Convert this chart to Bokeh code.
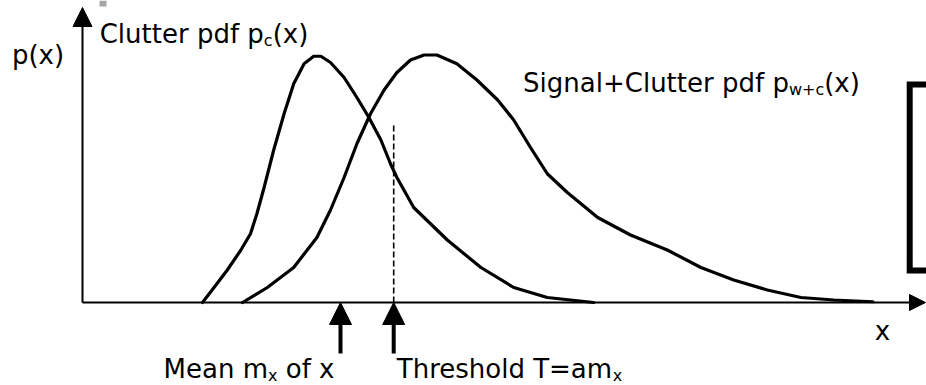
from bokeh.plotting import figure
from bokeh.models import Range1d, Arrow, NormalHead, Label
from bokeh.embed import file_html
from bokeh.resources import INLINE

# ---------------- data (x in arbitrary units, p(x) in % of peak) ----------------
clutter_x = [15.0, 16.8, 18.1, 19.8, 21.0, 21.8, 22.7, 23.9, 25.2, 26.4, 27.7, 28.9, 29.8,
             31.0, 32.7, 34.3, 35.8, 37.3, 38.5, 39.3, 41.4, 45.6, 49.8, 53.9, 58.1, 63.9]
clutter_y = [0, 7.5, 13, 21, 27.5, 35.5, 46, 61, 75.5, 87.5, 95.5, 98.5, 98.5,
             96, 90, 82, 74, 65, 55.5, 50, 38, 25, 14, 6, 2, 0]

signal_x = [20.0, 23.1, 26.4, 29.3, 31.0, 32.7, 34.3, 36.0, 37.7, 39.3, 41.0, 42.7, 44.3,
            46.8, 49.3, 51.9, 53.9, 56.0, 58.1, 60.6, 64.4, 68.5, 73.1, 77.3, 81.4, 85.6,
            89.8, 93.9, 98.8]
signal_y = [0, 6, 14, 26, 37, 50, 63.5, 75.5, 85, 92, 97, 99, 99,
            95.5, 89, 81, 73, 62, 51.5, 44, 34, 27, 21, 14, 9, 5,
            2, 1, 0.3]

mean_x = 32.25          # mean m_x of x
threshold_x = 38.9      # threshold T = a m_x
threshold_top = 72

box_x = [106, 103.4, 103.4, 106]
box_y = [87.2, 87.2, 12.8, 12.8]

# ---------------- layout helpers (page pixel -> data) ----------------
X0, Y0, SX, SY = 82.0, 302.0, 8.0, 2.5
def dx(px):
    return (px - X0) / SX
def dy(py):
    return (Y0 - py) / SY

x_axis_end = dx(925)
y_axis_end = dy(7)

FONT = "DejaVu Sans"
W = {'C': 0.698, 'l': 0.278, 'u': 0.634, 't': 0.392, 'e': 0.615, 'r': 0.411, ' ': 0.318,
     'p': 0.635, 'd': 0.635, 'f': 0.352, 'x': 0.592, '(': 0.390, ')': 0.390, 'c': 0.550,
     'w': 0.818, '+': 0.838, 'S': 0.635, 'i': 0.278, 'g': 0.635, 'n': 0.634, 'a': 0.613,
     'M': 0.863, 'm': 0.974, 'o': 0.612, 'T': 0.611, 'h': 0.634, 's': 0.521, '=': 0.838}
def tw(s, size):
    return sum(W.get(ch, 0.6) for ch in s) * size

p = figure(width=926, height=385, x_range=Range1d(dx(0), dx(926)), y_range=Range1d(dy(385), dy(0)),
           x_axis_type=None, y_axis_type=None, toolbar_location=None, output_backend="svg",
           min_border=0, min_border_left=0, min_border_right=0, min_border_top=0, min_border_bottom=0)
p.outline_line_color = None
p.grid.visible = False
p.background_fill_color = "white"
p.border_fill_color = "white"

# small grey mark at the top edge
p.quad(left=dx(99), right=dx(106), top=dy(0), bottom=dy(6), fill_color="#a6a6a6", line_color=None)

# axes with arrowheads
p.add_layout(Arrow(x_start=0, y_start=0, x_end=x_axis_end, y_end=0, line_width=2, line_color="black",
                   end=NormalHead(size=16, fill_color="black", line_color="black", line_width=1)))
p.add_layout(Arrow(x_start=0, y_start=0, x_end=0, y_end=y_axis_end, line_width=2, line_color="black",
                   end=NormalHead(size=19, fill_color="black", line_color="black", line_width=1)))

# pdf curves
p.line(clutter_x, clutter_y, line_width=3.2, line_color="black", line_join="round", line_cap="round")
p.line(signal_x, signal_y, line_width=3.2, line_color="black", line_join="round", line_cap="round")

# threshold dashed line
p.line([threshold_x, threshold_x], [0, threshold_top], line_width=1.6, line_color="black",
       line_dash="6 3")

# arrows below the axis
for xv in (mean_x, threshold_x):
    p.add_layout(Arrow(x_start=xv, y_start=dy(353), x_end=xv, y_end=0, line_width=4, line_color="black",
                       end=NormalHead(size=22, fill_color="black", line_color="black", line_width=1)))

# empty box at right
p.line(box_x, box_y, line_width=6, line_color="black", line_join="miter")

# texts: groups of (text, size, baseline shift); the label anchor sits ~0.365 em above baseline
def add_text(pieces, center_px, base_py):
    total = sum(tw(t, s) for t, s, sh in pieces)
    x = center_px - total / 2
    for t, s, sh in pieces:
        st = t.lstrip(" ")
        lead = tw(t[:len(t) - len(st)], s)
        ypix = base_py + sh - 0.365 * s
        p.add_layout(Label(x=dx(x + lead), y=dy(ypix), text=st, text_font=FONT,
                           text_font_size=f"{s}px", text_color="black",
                           text_baseline="alphabetic", text_align="left"))
        x += tw(t, s)

add_text([("p(x)", 26, 0)], 37.5, 64)
add_text([("Clutter pdf p", 26, 0), ("c", 16, 3), ("(x)", 26, 0)], 203.5, 43)
add_text([("Signal+Clutter pdf p", 26, 0), ("w+c", 16, 3), ("(x)", 26, 0)], 691, 92)
add_text([("x", 26, 0)], 882, 340)
add_text([("Mean m", 26, 0), ("x", 16, 3), (" of x", 26, 0)], 248.5, 378)
add_text([("Threshold T=am", 26, 0), ("x", 16, 3)], 509, 378)

open("out.html", "w").write(file_html(p, INLINE))
